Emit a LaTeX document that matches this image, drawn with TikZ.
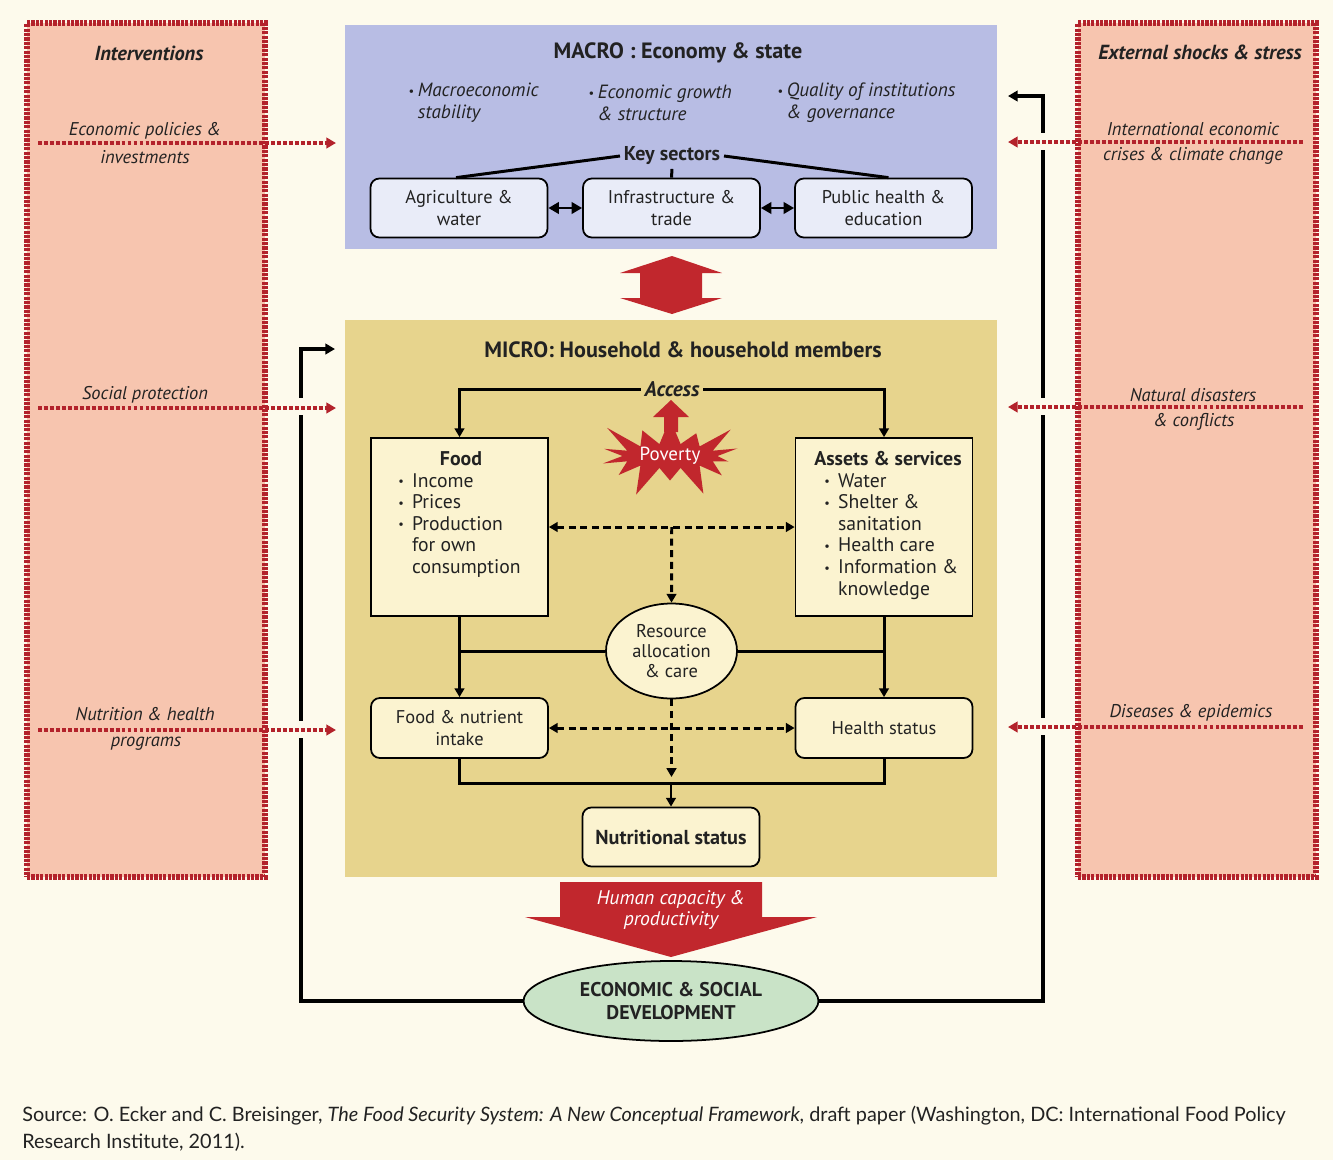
\documentclass[tikz,border=0pt]{standalone}
\usepackage{fontspec}
\setmainfont{PT Sans}
\newfontfamily\srcfont{Lato}
\usetikzlibrary{arrows.meta,shapes.geometric,shapes.symbols,calc}
\definecolor{bgc}{HTML}{FDFAEC}
\definecolor{salmon}{HTML}{F7C5AF}
\definecolor{dred}{HTML}{B3222B}
\definecolor{lav}{HTML}{B8BDE4}
\definecolor{khaki}{HTML}{E7D48D}
\definecolor{lbox}{HTML}{E9ECF8}
\definecolor{ybox}{HTML}{FBF3D0}
\definecolor{gell}{HTML}{C9E3C7}
\definecolor{arred}{HTML}{C1272D}
\definecolor{txt}{HTML}{222222}
\newcommand\bul{\makebox[0.7em][l]{\raisebox{0.15ex}{\scriptsize\textbullet}}}
\newcommand\ibul{\makebox[0.5em][l]{\raisebox{0.15ex}{\scriptsize\textbullet}}}
\begin{document}
\begin{tikzpicture}[x=0.02cm,y=-0.02cm,
  lab/.style={font=\itshape\fontsize{10.5}{12}\selectfont, text=txt, inner sep=0pt},
  head/.style={font=\bfseries\itshape\fontsize{11.6}{13}\selectfont, text=txt, inner sep=0pt},
  redarr/.style={draw=dred, line width=2pt, dash pattern=on 2.2pt off 1.2pt, -{Triangle[length=5.5pt,width=6pt]}},
  redbox/.style={fill=salmon, draw=dred, line width=3pt, dash pattern=on 1.8pt off 0.7pt, minimum width=4.76cm, minimum height=17.08cm, inner sep=0pt},
  mbox/.style={draw=black, line width=1pt, rounded corners=5pt, fill=lbox, minimum width=3.54cm, minimum height=1.18cm, align=center, font=\fontsize{10.5}{12.5}\selectfont, text=txt, inner sep=0pt},
  ybx/.style={draw=black, line width=1pt, fill=ybox, minimum width=3.54cm, inner sep=0pt, text=txt, align=center, font=\fontsize{10.5}{12.5}\selectfont},
  conn/.style={draw=black, line width=1.7pt},
  arr/.style={conn, -{Triangle[length=5pt,width=5.5pt]}},
  darr/.style={conn, {Triangle[length=6pt,width=6.5pt]}-{Triangle[length=6pt,width=6.5pt]}},
  dash2/.style={draw=black, line width=1.7pt, dash pattern=on 4pt off 2.6pt},
  fb/.style={draw=black, line width=2.1pt, -{Triangle[length=5.5pt,width=6pt]}},
  gap/.style={fill=bgc}
]
\useasboundingbox (0,0) rectangle (1333,1160);
\fill[bgc] (0,0) rectangle (1333,1160);

% side boxes
\node[redbox] (intv) at (146,450) {};
\node[redbox] (ext) at (1197,450) {};
\node[head] (intvT) at (149,53) {Interventions};
\node[head] (extT) at (1200,53) {External shocks \& stress};

% main panels
\node[fill=lav, minimum width=13.04cm, minimum height=4.48cm, inner sep=0pt] (macro) at (671,137) {};
\node[fill=khaki, minimum width=13.04cm, minimum height=11.14cm, inner sep=0pt] (micro) at (671,598.5) {};

% feedback loop
\node[ellipse, draw=black, line width=1pt, fill=gell, minimum width=5.9cm, minimum height=1.6cm, inner sep=0pt, align=center, font=\bfseries\fontsize{11.3}{13.5}\selectfont, text=txt] (esd) at (671,1001) {ECONOMIC \& SOCIAL\\DEVELOPMENT};
\coordinate (lfb) at (335,349);
\coordinate (rfb) at (1008,96);
\draw[fb] (esd.west) -| (301,349) -- (lfb);
\draw[fb] (esd.east) -| (1043,96) -- (rfb);
\foreach \yy in {407,730} \fill[gap] (295,\yy-9) rectangle (307,\yy+8);
\foreach \yy in {142,407,727} \fill[gap] (1037,\yy-9) rectangle (1049,\yy+8);

% red dotted arrows and labels (left)
\coordinate (l1s) at (38,143); \coordinate (l1e) at (336,143);
\coordinate (l2s) at (38,408); \coordinate (l2e) at (336,408);
\coordinate (l3s) at (38,730); \coordinate (l3e) at (336,730);
\draw[redarr] (l1s) -- (l1e);
\draw[redarr] (l2s) -- (l2e);
\draw[redarr] (l3s) -- (l3e);
\node[lab] (ep1) at (145,131) {Economic policies \&};
\node[lab] (ep2) at (145,157) {investments};
\node[lab] (sp) at (145,395) {Social protection};
\node[lab] (nh1) at (145,714) {Nutrition \& health};
\node[lab] (nh2) at (146,744) {programs};
% right
\coordinate (r1s) at (1303,142); \coordinate (r1e) at (1008,142);
\coordinate (r2s) at (1303,407); \coordinate (r2e) at (1008,407);
\coordinate (r3s) at (1303,727); \coordinate (r3e) at (1008,727);
\draw[redarr] (r1s) -- (r1e);
\draw[redarr] (r2s) -- (r2e);
\draw[redarr] (r3s) -- (r3e);
\node[lab] (ie1) at (1193,129) {International economic};
\node[lab] (ie2) at (1193,156) {crises \& climate change};
\node[lab] (nd1) at (1193,395) {Natural disasters};
\node[lab] (nd2) at (1194,422) {\& conflicts};
\node[lab] (de) at (1191,713) {Diseases \& epidemics};

% MACRO content
\node[font=\bfseries\fontsize{12.6}{14}\selectfont, text=txt, inner sep=0pt] (macroT) at (678,53) {MACRO : Economy \& state};
\node[lab, font=\itshape\fontsize{10.9}{12.5}\selectfont, anchor=west, align=left] (m1) at (408,103) {\ibul Macroeconomic\\\phantom{\ibul}stability};
\node[lab, font=\itshape\fontsize{10.9}{12.5}\selectfont, anchor=west, align=left] (m2) at (588,103) {\ibul Economic growth\\\phantom{\ibul}\& structure};
\node[lab, font=\itshape\fontsize{10.9}{12.5}\selectfont, anchor=west, align=left] (m3) at (777,103) {\ibul Quality of institutions\\\phantom{\ibul}\& governance};
\node[font=\bfseries\fontsize{11.4}{12}\selectfont, text=txt, inner sep=2pt, fill=lav] (ks) at (672,156) {Key sectors};
\node[mbox] (agr) at (459,208) {Agriculture \&\\water};
\node[mbox] (infra) at (671.5,208) {Infrastructure \&\\trade};
\node[mbox] (pub) at (883.5,208) {Public health \&\\education};
\draw[conn] (ks.west) -- ($(agr.north)+(-3,0)$);
\draw[conn] (ks.east) -- ($(pub.north)+(5,0)$);
\draw[conn] (ks.south) -- (infra.north);
\draw[darr] (agr.east) -- (infra.west);
\draw[darr] (infra.east) -- (pub.west);

% big double arrow
\fill[arred] (672,256) -- (722,273) -- (702,273) -- (702,298) -- (722,298) -- (672,314) -- (620,298) -- (640,298) -- (640,273) -- (620,273) -- cycle;

% MICRO content
\node[font=\bfseries\fontsize{12.6}{14}\selectfont, text=txt, inner sep=0pt] (microT) at (683,350) {MICRO: Household \& household members};
\node[font=\bfseries\itshape\fontsize{12}{13}\selectfont, text=txt, inner sep=2pt] (acc) at (672,389) {Access};
\node[ybx, minimum height=3.56cm] (food) at (459.5,527) {};
\node[ybx, minimum height=3.56cm] (assets) at (884,527) {};
\node[font=\bfseries\fontsize{11.3}{12}\selectfont, text=txt, inner sep=0pt] (foodT) at (461,459) {Food};
\node[font=\fontsize{11.2}{12.3}\selectfont, text=txt, inner sep=0pt, anchor=north west, align=left] (foodL) at (398,473) {\bul Income\\\bul Prices\\\bul Production\\\phantom{\bul}for own\\\phantom{\bul}consumption};
\node[font=\bfseries\fontsize{11.3}{12}\selectfont, text=txt, inner sep=0pt] (assetsT) at (888,459) {Assets \& services};
\node[font=\fontsize{11.2}{12.3}\selectfont, text=txt, inner sep=0pt, anchor=north west, align=left] (assetsL) at (824,473) {\bul Water\\\bul Shelter \&\\\phantom{\bul}sanitation\\\bul Health care\\\bul Information \&\\\phantom{\bul}knowledge};
\draw[arr] (acc.west) -| (food.north);
\draw[arr] (acc.east) -| (assets.north);

% poverty
\node[starburst, starburst points=14, starburst point height=0.7cm, fill=arred, draw=none, minimum width=3.3cm, minimum height=1.85cm, inner sep=0pt, text=white, font=\fontsize{10.8}{12}\selectfont] (pov) at (670,456) {Poverty};
\fill[arred] (671,400) -- (689,417) -- (678,417) -- (678,432) -- (664,432) -- (664,417) -- (653,417) -- cycle;

% resource allocation
\node[ellipse, draw=black, line width=1pt, fill=ybox, minimum width=2.62cm, minimum height=1.9cm, inner sep=0pt, align=center, text=txt, font=\fontsize{10.5}{11.5}\selectfont] (res) at (671.5,651) {Resource\\allocation\\\& care};
\coordinate (dj) at ($(food.east)!0.5!(assets.west)$);
\draw[dash2, {Triangle[length=5pt,width=5.5pt]}-{Triangle[length=5pt,width=5.5pt]}] (food.east) -- (assets.west);
\draw[dash2, -{Triangle[length=5pt,width=5.5pt]}] (dj) -- (res.north);

\node[mbox, fill=ybox, minimum height=1.2cm] (fni) at (459.5,728) {Food \& nutrient\\intake};
\node[mbox, fill=ybox, minimum height=1.2cm] (hs) at (884,728) {Health status};
\draw[arr] (food.south) -- (fni.north);
\draw[arr] (assets.south) -- (hs.north);
\draw[conn] (res.west) -- (food.south |- res.west);
\draw[conn] (res.east) -- (assets.south |- res.east);
\draw[dash2, {Triangle[length=5pt,width=5.5pt]}-{Triangle[length=5pt,width=5.5pt]}] (fni.east) -- (hs.west);
\coordinate (rtip) at (671.5,777);
\draw[dash2, -{Triangle[length=5pt,width=5.5pt]}] (res.south) -- (rtip);

\node[mbox, fill=ybox, minimum height=1.18cm, font=\bfseries\fontsize{11.5}{12}\selectfont] (nut) at (671,837) {Nutritional status};
\coordinate (bj) at (671,783);
\draw[conn] (fni.south) |- (bj) -| (hs.south);
\draw[arr] (bj) -- (nut.north);

% human capacity arrow
\fill[arred] (560,882) -- (762,882) -- (762,917) -- (817,917) -- (671,957) -- (525,917) -- (560,917) -- cycle;
\node[font=\itshape\fontsize{11.2}{12}\selectfont, text=white, align=center, inner sep=0pt] (hc) at (671,910) {Human capacity \&\\productivity};

% source
\node[anchor=west, inner sep=0pt, text=txt, font=\srcfont\fontsize{11.3}{12}\selectfont] (src1) at (22,1116) {Source: O. Ecker and C. Breisinger, \textit{The Food Security System: A New Conceptual Framework}, draft paper (Washington, DC: International Food Policy};
\node[anchor=west, inner sep=0pt, text=txt, font=\srcfont\fontsize{11.3}{12}\selectfont] (src2) at (22,1142) {Research Institute, 2011).};
\end{tikzpicture}
\end{document}
